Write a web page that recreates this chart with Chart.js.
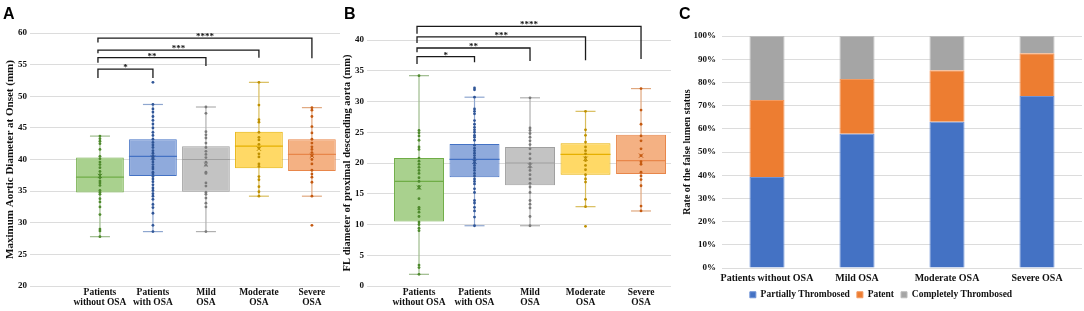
<!DOCTYPE html>
<html>
<head>
<meta charset="utf-8">
<script src="https://cdn.jsdelivr.net/npm/chart.js@4/dist/chart.umd.min.js"></script>
<style>
  body { margin: 0; background: #fff; width: 1084px; height: 311px; position: relative; overflow: hidden; }
  .panel { position: absolute; top: 0; height: 311px; }
  .letter { position: absolute; top: 6px; font: bold 16px "Liberation Sans", Arial, sans-serif; line-height: 16px; color: #000; }
</style>
</head>
<body>
<div class="panel" style="left:0;width:341px"><canvas id="chartA"></canvas></div>
<div class="panel" style="left:341px;width:339px"><canvas id="chartB"></canvas></div>
<div class="panel" style="left:680px;width:404px"><canvas id="chartC"></canvas></div>
<div class="letter" style="left:3px">A</div>
<div class="letter" style="left:344px">B</div>
<div class="letter" style="left:679px">C</div>
<script>
// groups shared by panels A and B
const groupLabels = [["Patients", "without OSA"], ["Patients", "with OSA"], ["Mild", "OSA"], ["Moderate", "OSA"], ["Severe", "OSA"]];

// panel A: maximum aortic diameter at onset (mm)
const minA = [27.8, 28.6, 28.6, 34.2, 34.2];
const q1A = [34.8, 37.4, 34.9, 38.6, 38.2];
const medA = [37.2, 40.5, 40.0, 42.1, 40.8];
const q3A = [40.3, 43.2, 42.1, 44.4, 43.2];
const maxA = [43.7, 48.7, 48.3, 52.2, 48.2];
const meanA = [37.4, 40.3, 39.2, 41.7, 40.6];
const pointsA = [
  [43.7, 43.3, 42.9, 42.5, 41.6, 40.5, 40.1, 39.6, 39.2, 38.7, 38.1, 37.6, 37.1, 36.6, 36.3, 35.9, 35.1, 34.8, 34.5, 33.8, 33.3, 32.5, 31.3, 29.0, 28.7, 27.8],
  [52.2, 48.7, 48.0, 47.5, 46.8, 46.2, 45.6, 45.0, 44.3, 43.8, 43.2, 42.7, 42.3, 41.9, 41.4, 41.0, 40.6, 40.3, 40.0, 39.6, 39.2, 38.8, 38.5, 38.0, 37.7, 37.3, 36.9, 36.5, 36.0, 35.5, 35.1, 34.6, 34.2, 33.7, 32.9, 32.4, 31.5, 29.6, 28.6],
  [48.3, 47.3, 44.4, 43.9, 43.4, 42.6, 41.9, 41.3, 40.8, 40.3, 39.6, 39.1, 38.0, 37.8, 36.3, 35.8, 34.8, 34.5, 33.9, 33.1, 32.5, 28.6],
  [52.2, 48.6, 46.3, 45.9, 44.3, 43.5, 43.1, 42.4, 41.8, 40.9, 40.4, 39.3, 38.9, 37.3, 36.8, 35.7, 34.9, 34.2],
  [48.2, 47.8, 46.8, 45.2, 44.2, 43.2, 42.6, 42.0, 41.6, 41.1, 40.6, 40.0, 39.3, 38.3, 37.7, 37.2, 36.4, 34.2, 29.6]
];

// panel B: FL diameter of proximal descending aorta (mm)
const minB = [1.9, 9.8, 9.8, 12.9, 12.2];
const q1B = [10.5, 17.7, 16.4, 18.1, 18.2];
const medB = [17.0, 20.6, 20.0, 21.4, 20.4];
const q3B = [20.8, 23.1, 22.6, 23.2, 24.6];
const maxB = [34.2, 30.7, 30.6, 28.4, 32.1];
const meanB = [16.0, 20.2, 19.6, 20.7, 21.2];
const pointsB = [
  [34.2, 25.3, 24.9, 24.4, 23.7, 22.6, 22.2, 20.8, 20.3, 19.8, 19.3, 18.8, 18.3, 17.6, 17.0, 16.2, 15.9, 14.2, 12.8, 12.5, 12.0, 11.3, 10.4, 10.0, 9.4, 9.0, 3.4, 3.0, 1.9],
  [32.2, 31.9, 30.7, 28.8, 28.4, 28.0, 26.9, 26.3, 25.8, 25.4, 25.0, 24.5, 24.2, 23.7, 22.9, 22.4, 22.0, 21.6, 21.2, 20.8, 20.4, 20.0, 19.6, 19.2, 18.8, 18.3, 17.9, 17.4, 17.0, 16.6, 15.8, 15.2, 13.9, 13.5, 12.8, 12.2, 11.2, 9.8],
  [30.6, 25.7, 25.3, 24.8, 24.2, 23.6, 23.0, 22.3, 21.5, 20.7, 19.9, 19.3, 18.8, 18.1, 17.4, 16.7, 16.1, 15.2, 13.9, 13.3, 12.7, 11.3, 9.8],
  [28.4, 25.4, 24.5, 23.4, 22.6, 22.0, 21.5, 20.9, 20.4, 19.6, 18.9, 18.1, 17.4, 16.9, 14.1, 12.9, 9.7],
  [32.1, 28.6, 26.3, 24.4, 23.6, 22.3, 21.2, 20.2, 19.8, 18.5, 17.9, 17.3, 16.3, 13.0, 12.2]
];

// significance brackets: all start at group 1
const bracketLabels = ["*", "**", "***", "****"];
const bracketTo = [2, 3, 4, 5];
const bracketTopA = [54.3, 56.1, 57.3, 59.2];
const bracketLeftA = [52.9, 55.3, 56.8, 58.5];
const bracketRightA = [52.9, 54.8, 56.1, 56.0];
const bracketTopB = [37.3, 38.7, 40.5, 42.2];
const bracketLeftB = [36.1, 38.0, 39.5, 41.0];
const bracketRightB = [36.4, 36.6, 36.7, 36.9];

// panel C: rate of the false lumen status (%)
const statusCats = ["Patients without OSA", "Mild OSA", "Moderate OSA", "Severe OSA"];
const partialRate = [39.2, 57.9, 63.0, 74.1];
const patentRate = [33.2, 23.6, 22.2, 18.5];
const completeRate = [27.6, 18.5, 14.8, 7.4];

const fillColors = ['#a9d18e', '#8faadc', '#c3c3c3', '#ffd966', '#f4b183'];
const edgeColors = ['#70ad47', '#4472c4', '#a0a0a0', '#e6b000', '#e8864a'];
const dotColors = ['#4e8a2c', '#2f5597', '#7a7a7a', '#bf9000', '#c55a11'];
const whiskerColors = ['#9dbb8c', '#8ea6cf', '#b0b0b0', '#d9bd5c', '#e0a77e'];

const serif = '"Liberation Serif", "Times New Roman", serif';
const inkColor = '#111';

function bracketPlugin(top, left, right) {
  return {
    id: 'brackets',
    afterDatasetsDraw(chart) {
      const xs = chart.scales.x, ys = chart.scales.y, ctx = chart.ctx;
      ctx.save();
      ctx.strokeStyle = '#1a1a1a';
      ctx.lineWidth = 1.3;
      ctx.fillStyle = inkColor;
      ctx.font = 'bold 9px ' + serif;
      ctx.textAlign = 'center';
      ctx.textBaseline = 'alphabetic';
      for (let i = 0; i < bracketLabels.length; i++) {
        const x1 = xs.getPixelForValue(1) - 2, x2 = xs.getPixelForValue(bracketTo[i]);
        const yt = ys.getPixelForValue(top[i]);
        ctx.beginPath();
        ctx.moveTo(x1, ys.getPixelForValue(left[i]));
        ctx.lineTo(x1, yt);
        ctx.lineTo(x2, yt);
        ctx.lineTo(x2, ys.getPixelForValue(right[i]));
        ctx.stroke();
        ctx.fillText(bracketLabels[i], (x1 + x2) / 2, yt + 1);
      }
      ctx.restore();
    }
  };
}

function boxDatasets(mins, q1s, meds, q3s, maxs, means, points, halfBox) {
  const ds = [];
  points.forEach((vals, i) => {
    ds.push({
      type: 'scatter', order: 0,
      data: vals.map(v => ({x: i + 1, y: v})),
      pointRadius: 1.4, pointBorderWidth: 0, pointBackgroundColor: dotColors[i]
    });
  });
  ds.push({
    type: 'scatter', order: 1,
    data: means.map((v, i) => ({x: i + 1, y: v})),
    pointStyle: 'crossRot', pointRadius: 3, pointBorderWidth: 1, pointBorderColor: dotColors
  });
  ds.push({
    type: 'scatter', order: 2,
    data: meds.map((v, i) => ({x: i + 1, y: v})),
    pointStyle: 'line', pointRadius: halfBox, pointBorderWidth: 1.2, pointBorderColor: edgeColors
  });
  ds.push({
    type: 'bar', order: 3,
    data: q1s.map((v, i) => ({x: i + 1, y: [v, q3s[i]]})),
    backgroundColor: fillColors, borderColor: edgeColors, borderWidth: 1, borderSkipped: false,
    barPercentage: 0.9, categoryPercentage: 1
  });
  mins.forEach((v, i) => {
    ds.push({
      type: 'scatter', order: 4, showLine: true,
      data: [{x: i + 1, y: v}, {x: i + 1, y: maxs[i]}],
      borderColor: whiskerColors[i], borderWidth: 1.2,
      pointStyle: 'line', pointRadius: 10, pointBorderWidth: 1.2, pointBorderColor: whiskerColors[i]
    });
  });
  return ds;
}

function boxOptions(xMin, xMax, yMin, yMax, yTitle, titleSize, titlePad, yWidth, padTop, padRight) {
  return {
    responsive: true, maintainAspectRatio: false, animation: false, events: [],
    layout: {autoPadding: false, padding: {top: padTop, right: padRight, left: 0, bottom: 0}},
    plugins: {legend: {display: false}, tooltip: {enabled: false}},
    scales: {
      x: {
        type: 'linear', min: xMin, max: xMax, offset: false,
        afterBuildTicks: s => { s.ticks = groupLabels.map((_, i) => ({value: i + 1})); },
        afterFit: s => { s.height = 25; },
        ticks: {
          callback: v => groupLabels[v - 1], autoSkip: false, minRotation: 0, maxRotation: 0, padding: 2,
          color: inkColor, font: {family: serif, weight: 'bold', size: 9.5, lineHeight: 1.05}
        },
        grid: {display: false, drawTicks: false}, border: {display: false}
      },
      y: {
        min: yMin, max: yMax,
        afterFit: s => { s.width = yWidth; },
        ticks: {stepSize: 5, padding: 3, color: inkColor, font: {family: serif, weight: 'bold', size: 9}},
        grid: {color: '#dcdcdc', drawTicks: false}, border: {display: false},
        title: {display: true, text: yTitle, color: inkColor, padding: {top: titlePad, bottom: 0},
                font: {family: serif, weight: 'bold', size: titleSize}}
      }
    }
  };
}

new Chart(document.getElementById('chartA'), {
  type: 'scatter',
  data: {datasets: boxDatasets(minA, q1A, medA, q3A, maxA, meanA, pointsA, 24)},
  options: boxOptions(-0.32, 5.53, 20, 60, 'Maximum Aortic Diameter at Onset (mm)', 11, 4, 30, 33, 1),
  plugins: [bracketPlugin(bracketTopA, bracketLeftA, bracketRightA)]
});

new Chart(document.getElementById('chartB'), {
  type: 'scatter',
  data: {datasets: boxDatasets(minB, q1B, medB, q3B, maxB, meanB, pointsB, 25)},
  options: boxOptions(0.063, 5.54, 0, 40, 'FL diameter of proximal descending aorta (mm)', 10.5, 0, 26, 40, 9),
  plugins: [bracketPlugin(bracketTopB, bracketLeftB, bracketRightB)]
});

new Chart(document.getElementById('chartC'), {
  type: 'bar',
  data: {
    labels: statusCats,
    datasets: [
      {label: 'Partially Thrombosed', data: partialRate, backgroundColor: '#4472c4', borderColor: '#6f93d6', borderWidth: 1},
      {label: 'Patent', data: patentRate, backgroundColor: '#ed7d31', borderColor: '#f39a60', borderWidth: 1},
      {label: 'Completely Thrombosed', data: completeRate, backgroundColor: '#a5a5a5', borderColor: '#bdbdbd', borderWidth: 1}
    ]
  },
  options: {
    responsive: true, maintainAspectRatio: false, animation: false, events: [],
    datasets: {bar: {barPercentage: 0.39, categoryPercentage: 1}},
    layout: {autoPadding: false, padding: {top: 36, right: 2, left: 0, bottom: 1.5}},
    plugins: {
      tooltip: {enabled: false},
      legend: {
        position: 'bottom',
        labels: {boxWidth: 6, boxHeight: 6, padding: 7, color: inkColor,
                 font: {family: serif, weight: 'bold', size: 9.5}}
      }
    },
    scales: {
      x: {
        stacked: true,
        afterFit: s => { s.height = 15; },
        ticks: {padding: 4, autoSkip: false, minRotation: 0, maxRotation: 0, color: inkColor,
                font: {family: serif, weight: 'bold', size: 10}},
        grid: {display: false, drawTicks: false}, border: {display: false}
      },
      y: {
        stacked: true, min: 0, max: 100,
        afterFit: s => { s.width = 42; },
        ticks: {stepSize: 10, padding: 6, callback: v => v + '%', color: inkColor,
                font: {family: serif, weight: 'bold', size: 9}},
        grid: {color: '#dcdcdc', drawTicks: false}, border: {display: false},
        title: {display: true, text: 'Rate of the false lumen status', color: inkColor,
                padding: {top: 1, bottom: 0}, font: {family: serif, weight: 'bold', size: 10}}
      }
    }
  }
});
</script>
</body>
</html>
